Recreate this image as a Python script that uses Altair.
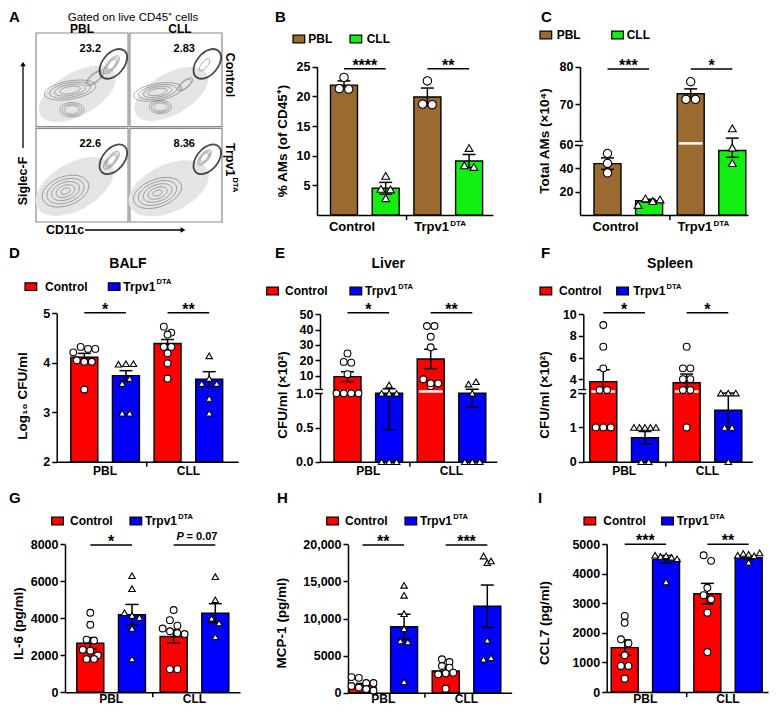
import altair as alt
import pandas as pd

FONT = "Liberation Sans"
W, H = 761, 698
RED, BLUE, BROWN, GREEN = "#ff0000", "#0000ff", "#9a6a30", "#11f011"

# ---------------- data ----------------
A_columns = ["PBL", "CLL"]
A_rows = ["Control", "Trpv1"]
A_gate_pct = ["23.2", "2.83", "22.6", "8.36"]
# flow populations: (box, CD11c, Siglec-F, semi-axis, axis ratio, angle, contour levels)
A_pops = [
    (0, 37, 39, 28, 0.35, 350, 4), (0, 39, 18, 13, 0.6, 0, 3), (0, 64, 52, 12, 0.4, 320, 2), (0, 82, 66, 12, 0.4, 310, 3),
    (1, 30, 37, 26, 0.35, 350, 4), (1, 33, 21, 12, 0.6, 0, 3), (1, 60, 45, 10, 0.4, 320, 2), (1, 81, 66, 8, 0.4, 310, 1),
    (2, 32, 33, 26, 0.6, 340, 5), (2, 82, 66, 12, 0.4, 310, 3),
    (3, 30, 31, 27, 0.55, 340, 5), (3, 81, 69, 10, 0.45, 310, 3),
]
A_clouds = [(0, 45, 35, 46, 0.5, 330), (1, 45, 35, 44, 0.5, 330), (2, 42, 38, 46, 0.55, 330), (3, 42, 36, 46, 0.55, 335)]

# B: % AMs (of CD45+); order Control-PBL, Control-CLL, Trpv1-PBL, Trpv1-CLL
B_mean = [21.9, 4.5, 19.9, 9.1]
B_sem = [0.7, 1.0, 1.5, 1.1]
B_points = [[23.2, 21.3, 21.2], [6.6, 4.4, 4.3, 2.83], [22.6, 18.7, 18.6], [11.3, 8.36, 8.1]]
B_sig = ["****", "**"]

# C: Total AMs (x10^4)
C_mean = [44.0, 12.2, 72.8, 55.2]
C_sem = [4.9, 1.3, 1.3, 5.8]
C_points = [[52.7, 44.2, 36.0], [8.6, 14.2, 11.9, 13.3], [76.0, 71.3, 71.3], [63.6, 57.8, 44.4]]
C_sig = ["***", "*"]

# D-I order: PBL-Control, PBL-Trpv1, CLL-Control, CLL-Trpv1
D_mean = [4.11, 3.74, 4.39, 3.67]
D_sem = [0.08, 0.10, 0.08, 0.15]
D_points = [[4.21, 4.32, 4.28, 4.28, 4.05, 4.02, 4.02, 3.46],
            [3.97, 3.98, 3.98, 3.58, 3.68, 2.98, 2.98],
            [4.73, 4.61, 4.57, 4.32, 4.32, 4.19, 3.99, 3.68],
            [4.14, 3.58, 3.68, 3.58, 3.28, 2.98]]
D_sig = ["*", "**"]

E_mean = [9.4, 1.0, 20.9, 1.0]
E_sem = [3.2, 0.53, 6.3, 0.2]
E_points = [[24.5, 19.0, 18.5, 11.0, 1, 1, 1, 1],
            [4, 1, 1, 1, 0, 0, 0],
            [42.3, 42.3, 35.3, 28.5, 3.3, 7.7, 5.1, 5.1],
            [4.6, 6.1, 1, 0, 0, 0]]
E_sig = ["*", "**"]

F_mean = [3.77, 0.70, 3.67, 1.50]
F_sem = [1.1, 0.18, 0.8, 0.5]
F_points = [[9, 7, 5, 3, 3, 1, 1, 1],
            [1, 1, 1, 1, 1, 0, 0],
            [7, 5, 5, 4, 4, 3, 3, 1],
            [2, 2, 2, 1, 1, 0]]
F_sig = ["*", "*"]

G_mean = [2650, 4200, 3020, 4270]
G_sem = [300, 550, 350, 520]
G_points = [[4300, 3650, 2850, 2800, 2300, 2250, 2000, 1800, 1800],
            [6300, 5600, 4300, 4150, 4050, 3450, 1800],
            [4450, 3900, 3600, 3450, 3300, 3200, 3150, 1250, 1250],
            [6250, 5000, 4000, 3750, 3000]]
G_sig = ["*", "P = 0.07"]

H_mean = [1000, 8880, 2920, 11660]
H_sem = [250, 1700, 450, 2850]
H_points = [[2100, 2000, 1300, 1300, 900, 700, 500, 300],
            [14470, 13120, 10650, 8630, 6970, 6830, 1480],
            [4500, 3600, 4140, 3370, 2480, 2610, 2700, 540],
            [18420, 17520, 17750, 7060, 4500, 4720]]
H_sig = ["**", "***"]

I_mean = [1500, 4480, 3320, 4540]
I_sem = [260, 130, 350, 60]
I_points = [[2570, 2340, 1780, 1640, 1240, 880, 880, 450],
            [4620, 4580, 4600, 4550, 4500, 3720],
            [4620, 4430, 3270, 3520, 3130, 2680, 1350],
            [4620, 4680, 4650, 4600, 4700, 4380]]
I_sig = ["***", "**"]


# ---------------- helpers ----------------
def cx(X):
    return X - 8


def cy(Y):
    return Y - 8 if Y < 475 else Y - 12


layers = []
texts = []
swatches = []


def T(x, y, text, style):
    texts.append(dict(x=cx(x), y=cy(y), text=text, style=style))


STYLES = {
    "letter": dict(fontSize=15, fontWeight="bold", align="left", baseline="alphabetic"),
    "ptitle": dict(fontSize=14, fontWeight="bold", align="center", baseline="alphabetic"),
    "leg": dict(fontSize=12, fontWeight="bold", align="left", baseline="middle"),
    "legsup": dict(fontSize=7.5, fontWeight="bold", align="left", baseline="middle"),
    "ytitle": dict(fontSize=13.5, fontWeight="bold", align="center", baseline="middle", angle=270),
    "gated": dict(fontSize=11.5, fontWeight="normal", align="center", baseline="alphabetic"),
    "flowcol": dict(fontSize=12, fontWeight="bold", align="center", baseline="alphabetic"),
    "flowrow": dict(fontSize=12.5, fontWeight="bold", align="center", baseline="middle", angle=90),
    "flowrowL": dict(fontSize=12.5, fontWeight="bold", align="left", baseline="middle", angle=90),
    "flowrowsup": dict(fontSize=7.5, fontWeight="bold", align="left", baseline="middle", angle=90),
    "flowax": dict(fontSize=12.5, fontWeight="bold", align="center", baseline="middle"),
    "flowaxV": dict(fontSize=12.5, fontWeight="bold", align="center", baseline="middle", angle=270),
    "pval_i": dict(fontSize=11, fontWeight="bold", fontStyle="italic", align="left", baseline="middle"),
    "pval": dict(fontSize=11, fontWeight="bold", align="left", baseline="middle"),
}


def legend(yc, items, fs=12):
    for sw, lab, col, text in items:
        swatches.append(dict(x=cx(sw), x2=cx(sw + 11.7), y=cy(yc - 3.8), y2=cy(yc + 3.8), fill=col))
        if text == "Trpv1":
            T(lab, yc, "Trpv1", "leg")
            T(lab + 2.723 * fs + 0.5, yc - 4.5, "DTA", "legsup")
        else:
            T(lab, yc, text, "leg")


def beeswarm(ds, diam, span):
    order = sorted(range(len(ds)), key=lambda i: -ds[i])
    clusters = []
    for i in order:
        if clusters and ds[clusters[-1][0]] - ds[i] < diam * 0.85:
            clusters[-1].append(i)
        else:
            clusters.append([i])
    off = [0.0] * len(ds)
    for c in clusters:
        c.sort()
        n = len(c)
        s = diam if n < 2 else min(diam, span / (n - 1))
        for k, i in enumerate(c):
            off[i] = (k - (n - 1) / 2) * s
    return off


def bar_panel(P):
    step, c0 = P["step"], P["c0"]
    ax, xe = P["axis_x"], P["x_end"]
    u0, u1 = (ax - c0) / step, (xe - c0) / step
    xs = alt.Scale(domain=[u0, u1], range=[cx(ax), cx(xe)], nice=False, zero=False)
    base = cy(P["base"])
    dmax = P["dmax"]
    ys = alt.Scale(domain=[0, dmax], range=[base, base - dmax], nice=False, zero=False)
    dm = P["dmap"]
    hw = P["bar_w"] / 2 / step

    tvals = [round(dm(v), 3) for v, _ in P["ticks"]]
    expr = "".join(f"datum.value == {tv} ? '{lab}' : " for tv, (_, lab) in zip(tvals, P["ticks"])) + "''"
    yaxis = alt.Axis(orient="left", offset=-cx(ax), values=tvals, labelExpr=expr, title=None, grid=False,
                     domainColor="black", domainWidth=1.5, tickColor="black", tickWidth=1.5, tickSize=5,
                     labelFont=FONT, labelFontSize=12.5, labelFontWeight="bold", labelColor="black",
                     labelPadding=2, labelOverlap=False)
    xaxis = alt.Axis(orient="bottom", offset=base - H, ticks=False, labels=False, title=None, grid=False,
                     domainColor="black", domainWidth=1.5)

    bars = pd.DataFrame({"lo": [i - hw for i in range(4)], "hi": [i + hw for i in range(4)],
                         "d0": [0.0] * 4, "d1": [dm(m) for m in P["mean"]], "fill": P["colors"]})
    layers.append(alt.Chart(bars).mark_rect(stroke="black", strokeWidth=1.4).encode(
        x=alt.X("lo:Q", scale=xs, axis=xaxis), x2="hi:Q",
        y=alt.Y("d0:Q", scale=ys, axis=yaxis), y2="d1:Q",
        fill=alt.Fill("fill:N", scale=None)))

    if P.get("brk") is not None:
        rows = [dict(lo=i - hw + 0.04, hi=i + hw - 0.04, d=P["brk"])
                for i, m in enumerate(P["mean"]) if dm(m) > P["brk"] + 1]
        if rows:
            layers.append(alt.Chart(pd.DataFrame(rows)).mark_rule(color="white", strokeWidth=2.5).encode(
                x=alt.X("lo:Q", scale=xs, axis=None), x2="hi:Q", y=alt.Y("d:Q", scale=ys, axis=None)))
        yb = base - P["brk"]
        one = pd.DataFrame({"k": [0]})
        layers.append(alt.Chart(one).mark_rule(color="white", strokeWidth=4).encode(
            x=alt.value(cx(ax) + 0.5), y=alt.value(yb - 2), y2=alt.value(yb + 2)))
        for dy in (-2, 2):
            layers.append(alt.Chart(one).mark_rule(color="black", strokeWidth=1.3).encode(
                x=alt.value(cx(ax) - 5), x2=alt.value(cx(ax) + 3), y=alt.value(yb + dy)))

    cap = 6.5 / step
    eb = pd.DataFrame({"u": [float(i) for i in range(4)],
                       "lo": [dm(max(P["vmin"], m - s)) for m, s in zip(P["mean"], P["sem"])],
                       "hi": [dm(m + s) for m, s in zip(P["mean"], P["sem"])],
                       "cl": [i - cap for i in range(4)], "cr": [i + cap for i in range(4)]})
    layers.append(alt.Chart(eb).mark_rule(color="black", strokeWidth=1.5).encode(
        x=alt.X("u:Q", scale=xs, axis=None), y=alt.Y("lo:Q", scale=ys, axis=None), y2="hi:Q"))
    for f in ("lo", "hi"):
        layers.append(alt.Chart(eb).mark_rule(color="black", strokeWidth=1.5).encode(
            x=alt.X("cl:Q", scale=xs, axis=None), x2="cr:Q", y=alt.Y(f + ":Q", scale=ys, axis=None)))

    rows = []
    for i, vals in enumerate(P["pts"]):
        ds = [dm(v) for v in vals]
        offs = beeswarm(ds, P["diam"], P["bar_w"] - 5)
        for d, o in zip(ds, offs):
            rows.append(dict(u=i + o / step, d=d, shape="circle" if i % 2 == 0 else "triangle-up",
                             sz=P["msize"][i % 2]))
    layers.append(alt.Chart(pd.DataFrame(rows)).mark_point(
        filled=True, fill="white", stroke="black", strokeWidth=1.1, opacity=1).encode(
        x=alt.X("u:Q", scale=xs, axis=None), y=alt.Y("d:Q", scale=ys, axis=None),
        shape=alt.Shape("shape:N", scale=None), size=alt.Size("sz:Q", scale=None)))

    layers.append(alt.Chart(pd.DataFrame({"u": [1.5]})).mark_rule(color="black", strokeWidth=1.5).encode(
        x=alt.X("u:Q", scale=xs, axis=None), y=alt.value(base), y2=alt.value(base + 5)))

    sy = cy(P["sig_y"])
    sig = pd.DataFrame({"a": [0.0, 2.0], "b": [1.0, 3.0], "m": [0.5, 2.5], "t": P["sig"]})
    layers.append(alt.Chart(sig).mark_rule(color="black", strokeWidth=1.5).encode(
        x=alt.X("a:Q", scale=xs, axis=None), x2="b:Q", y=alt.value(sy)))
    stars = sig[sig["t"].str.startswith("*")]
    layers.append(alt.Chart(stars).mark_text(font=FONT, fontSize=16, fontWeight="bold", color="black",
                                             align="center", baseline="alphabetic").encode(
        x=alt.X("m:Q", scale=xs, axis=None), y=alt.value(sy + 2.1), text="t:N"))

    ly = P["lab_y_canvas"] if "lab_y_canvas" in P else cy(P["lab_y"])
    if P["lab"] == "BC":
        fs = 13
        c = pd.DataFrame({"u": [0.5 - 12.8 / step], "t": [P["groups"][0]]})
        l = pd.DataFrame({"u": [2.5 - 34 / step], "t": ["Trpv1"]})
        s = pd.DataFrame({"u": [2.5 - 34 / step + (2.723 * fs + 0.5) / step], "t": ["DTA"]})
        specs = [(c, "center", fs, 0), (l, "left", fs, 0), (s, "left", 8, -5)]
    else:
        fs = 12
        c = pd.DataFrame({"u": [0.5, 2.5], "t": ["PBL", "CLL"]})
        specs = [(c, "center", fs, 0)]
    for df, al, size, dy in specs:
        layers.append(alt.Chart(df).mark_text(font=FONT, fontSize=size, fontWeight="bold", color="black",
                                              align=al, baseline="alphabetic").encode(
            x=alt.X("u:Q", scale=xs, axis=None), y=alt.value(ly + dy), text="t:N"))


# ---------------- panel A (flow cytometry) ----------------
fxs = alt.Scale(domain=[0, 202], range=[cx(36), cx(222)], nice=False, zero=False)
fys = alt.Scale(domain=[0, 202], range=[cy(222), cy(33)], nice=False, zero=False)
PXU = 0.93


def gx(box, u):
    return (box % 2) * 102 + u


def gy(box, v):
    return (1 - box // 2) * 102 + v


def ell(b):
    return f"M-1,0A1,{b} 0 1,1 1,0A1,{b} 0 1,1 -1,0Z"


boxes = pd.DataFrame([dict(x=gx(b, 0), x2=gx(b, 100), y=gy(b, 0), y2=gy(b, 100)) for b in range(4)])
layers.append(alt.Chart(boxes).mark_rect(fill="white", stroke="#8a8a8a", strokeWidth=1.2).encode(
    x=alt.X("x:Q", scale=fxs, axis=None), x2="x2:Q", y=alt.Y("y:Q", scale=fys, axis=None), y2="y2:Q"))

cl = pd.DataFrame([dict(x=gx(b, u), y=gy(b, v), path=ell(r), size=(2 * a * PXU) ** 2, ang=ang)
                   for b, u, v, a, r, ang in A_clouds])
layers.append(alt.Chart(cl).mark_point(filled=True, fill="#e4e4e4", opacity=1, strokeWidth=0).encode(
    x=alt.X("x:Q", scale=fxs, axis=None), y=alt.Y("y:Q", scale=fys, axis=None),
    shape=alt.Shape("path:N", scale=None), size=alt.Size("size:Q", scale=None),
    angle=alt.Angle("ang:Q", scale=None)))

crow = []
for b, u, v, a, r, ang, lv in A_pops:
    for k in range(lv):
        f = 1 - k * 0.2
        crow.append(dict(x=gx(b, u), y=gy(b, v), path=ell(r), size=(2 * a * f * PXU) ** 2, ang=ang))
layers.append(alt.Chart(pd.DataFrame(crow)).mark_point(filled=False, stroke="#707070", strokeWidth=0.8).encode(
    x=alt.X("x:Q", scale=fxs, axis=None), y=alt.Y("y:Q", scale=fys, axis=None),
    shape=alt.Shape("path:N", scale=None), size=alt.Size("size:Q", scale=None),
    angle=alt.Angle("ang:Q", scale=None)))

gates = pd.DataFrame([dict(x=gx(b, 84), y=gy(b, 67), path=ell(0.62), size=(2 * 18.5 * PXU) ** 2, ang=310,
                           tx=gx(b, 59), ty=gy(b, 83), t=A_gate_pct[b]) for b in range(4)])
layers.append(alt.Chart(gates).mark_point(filled=False, stroke="black", strokeWidth=1.8).encode(
    x=alt.X("x:Q", scale=fxs, axis=None), y=alt.Y("y:Q", scale=fys, axis=None),
    shape=alt.Shape("path:N", scale=None), size=alt.Size("size:Q", scale=None),
    angle=alt.Angle("ang:Q", scale=None)))
layers.append(alt.Chart(gates).mark_text(font=FONT, fontSize=11, fontWeight="bold", color="black").encode(
    x=alt.X("tx:Q", scale=fxs, axis=None), y=alt.Y("ty:Q", scale=fys, axis=None), text="t:N"))

one = pd.DataFrame({"k": [0]})
layers.append(alt.Chart(one).mark_rule(color="black", strokeWidth=1.3).encode(
    x=alt.value(cx(23)), y=alt.value(cy(148)), y2=alt.value(cy(66))))
layers.append(alt.Chart(one).mark_rule(color="black", strokeWidth=1.3).encode(
    x=alt.value(cx(85)), x2=alt.value(cx(181)), y=alt.value(cy(230))))
layers.append(alt.Chart(one).mark_point(shape="triangle-up", filled=True, color="black", size=30, opacity=1).encode(
    x=alt.value(cx(23)), y=alt.value(cy(64))))
layers.append(alt.Chart(one).mark_point(shape="triangle-right", filled=True, color="black", size=30, opacity=1).encode(
    x=alt.value(cx(183)), y=alt.value(cy(230))))

T(133, 20.5, "Gated on live CD45\u207a cells", "gated")
T(82, 32.5, A_columns[0], "flowcol")
T(180, 32.5, A_columns[1], "flowcol")
T(230, 75, A_rows[0], "flowrow")
T(230, 143, "Trpv1", "flowrowL")
T(234.5, 143 + 2.723 * 12.5 + 0.5, "DTA", "flowrowsup")
T(23, 181, "Siglec-F", "flowaxV")
T(65, 230, "CD11c", "flowax")

# ---------------- bar panels ----------------
circ_tri = lambda a, b: [a, b, a, b]

bar_panel(dict(axis_x=317, x_end=493, c0=344, step=41.7, base=215, dmax=25 * 5.932,
               dmap=lambda v: v * 5.932, vmin=0,
               ticks=[(5, "5"), (10, "10"), (15, "15"), (20, "20"), (25, "25")],
               mean=B_mean, sem=B_sem, pts=B_points, colors=circ_tri(BROWN, GREEN),
               sig_y=68.7, sig=B_sig, msize=(70, 62), diam=9.5, bar_w=27,
               lab="BC", lab_y=231, groups=["Control"]))


def dC(v):
    return 1.1675 * v if v <= 60 else 73.1 + 3.76 * (v - 60)


bar_panel(dict(axis_x=580, x_end=748, c0=607.5, step=41.6, base=215, dmax=dC(80), dmap=dC, vmin=0,
               ticks=[(20, "20"), (40, "40"), (60, "60"), (70, "70"), (80, "80")], brk=71.6,
               mean=C_mean, sem=C_sem, pts=C_points, colors=circ_tri(BROWN, GREEN),
               sig_y=69, sig=C_sig, msize=(70, 62), diam=9.5, bar_w=27,
               lab="BC", lab_y=231, groups=["Control"]))

bar_panel(dict(axis_x=56.7, x_end=238.3, c0=84.3, step=41.63, base=461.7, dmax=148.4,
               dmap=lambda v: (v - 2) * 49.47, vmin=2,
               ticks=[(2, "2"), (3, "3"), (4, "4"), (5, "5")],
               mean=D_mean, sem=D_sem, pts=D_points, colors=circ_tri(RED, BLUE),
               sig_y=312.7, sig=D_sig, msize=(46, 42), diam=7.5, bar_w=27, lab="DI", lab_y=474.5))


def dE(v):
    return 68.4 * v if v <= 1 else 72.1 + 1.54 * (v - 1)


bar_panel(dict(axis_x=320, x_end=496.7, c0=347.5, step=41.6, base=461.7, dmax=dE(50), dmap=dE, vmin=0,
               ticks=[(0, "0.0"), (0.5, "0.5"), (1, "1.0"), (10, "10"), (20, "20"), (30, "30"), (40, "40"), (50, "50")],
               brk=70.25, mean=E_mean, sem=E_sem, pts=E_points, colors=circ_tri(RED, BLUE),
               sig_y=312.7, sig=E_sig, msize=(46, 42), diam=7.5, bar_w=27, lab="DI", lab_y=474.5))


def dF(v):
    if v <= 2:
        return 34.3 * v
    if v < 3:
        return 68.6 + (v - 2) * 3.1
    return 71.7 + 10.83 * (v - 3)


bar_panel(dict(axis_x=583.3, x_end=752.3, c0=603.3, step=41.67, base=461.7, dmax=dF(10), dmap=dF, vmin=0,
               ticks=[(0, "0"), (1, "1"), (2, "2"), (4, "4"), (6, "6"), (8, "8"), (10, "10")],
               brk=70.15, mean=F_mean, sem=F_sem, pts=F_points, colors=circ_tri(RED, BLUE),
               sig_y=312.7, sig=F_sig, msize=(46, 42), diam=7.5, bar_w=27, lab="DI", lab_y=474.5))

BOTTOM_LABEL = 695.0  # canvas baseline of the bottom-row group labels

bar_panel(dict(axis_x=65, x_end=240, c0=90.3, step=41.67, base=696.3, dmax=148,
               dmap=lambda v: v * 148 / 8000, vmin=0,
               ticks=[(0, "0"), (2000, "2000"), (4000, "4000"), (6000, "6000"), (8000, "8000")],
               mean=G_mean, sem=G_sem, pts=G_points, colors=circ_tri(RED, BLUE),
               sig_y=549, sig=G_sig, msize=(46, 42), diam=7.5, bar_w=27, lab="DI", lab_y_canvas=BOTTOM_LABEL))

bar_panel(dict(axis_x=348, x_end=511.7, c0=362.5, step=41.6, base=696.7, dmax=148.4,
               dmap=lambda v: v * 148.4 / 20000, vmin=0,
               ticks=[(0, "0"), (5000, "5000"), (10000, "10,000"), (15000, "15,000"), (20000, "20,000")],
               mean=H_mean, sem=H_sem, pts=H_points, colors=circ_tri(RED, BLUE),
               sig_y=549, sig=H_sig, msize=(46, 42), diam=7.5, bar_w=27, lab="DI", lab_y_canvas=BOTTOM_LABEL))

bar_panel(dict(axis_x=606.7, x_end=768, c0=624.7, step=41.33, base=696, dmax=148,
               dmap=lambda v: v * 148 / 5000, vmin=0,
               ticks=[(0, "0"), (1000, "1000"), (2000, "2000"), (3000, "3000"), (4000, "4000"), (5000, "5000")],
               mean=I_mean, sem=I_sem, pts=I_points, colors=circ_tri(RED, BLUE),
               sig_y=548.3, sig=I_sig, msize=(46, 42), diam=7.5, bar_w=27, lab="DI", lab_y_canvas=BOTTOM_LABEL))

T(176.5, 541, "P", "pval_i")
T(186.5, 541, "= 0.07", "pval")

# ---------------- letters, titles, legends, axis titles ----------------
for L, x, y in [("A", 3, 22), ("B", 275, 22), ("C", 541, 22), ("D", 3, 258), ("E", 275, 258),
                ("F", 541, 258), ("G", 3, 507), ("H", 277, 507), ("I", 538, 507)]:
    T(max(x, 9), y, L, "letter")
T(128, 268, "BALF", "ptitle")
T(388.3, 268, "Liver", "ptitle")
T(670, 268, "Spleen", "ptitle")

legend(39, [(293, 308.3, BROWN, "PBL"), (350, 366.7, GREEN, "CLL")])
legend(35, [(540, 556.7, BROWN, "PBL"), (611.7, 626.7, GREEN, "CLL")])
legend(286.7, [(25, 45, RED, "Control"), (108.3, 123.3, BLUE, "Trpv1")])
legend(291, [(266.7, 285, RED, "Control"), (350, 365, BLUE, "Trpv1")])
legend(291, [(540, 559, RED, "Control"), (616.7, 633.3, BLUE, "Trpv1")])
legend(525, [(51.7, 70, RED, "Control"), (130, 145, BLUE, "Trpv1")])
legend(525, [(326.7, 345, RED, "Control"), (405, 420, BLUE, "Trpv1")])
legend(525, [(584, 603.3, RED, "Control"), (661.7, 676.7, BLUE, "Trpv1")])

for x, y, t in [(283, 141, "% AMs (of CD45\u207a)"), (545, 141, "Total AMs (\u00d710\u2074)"),
                (23.3, 396, "Log\u2081\u2080 CFU/ml"), (282.7, 395, "CFU/ml (\u00d710\u00b2)"),
                (545, 395, "CFU/ml (\u00d710\u00b2)"), (19, 627.5, "IL-6 (pg/ml)"),
                (281.7, 627, "MCP-1 (pg/ml)"), (545, 627, "CCL7 (pg/ml)")]:
    T(x, y, t, "ytitle")

layers.append(alt.Chart(pd.DataFrame(swatches)).mark_rect(stroke="black", strokeWidth=1.2).encode(
    x=alt.X("x:Q", scale=None, axis=None), x2="x2:Q",
    y=alt.Y("y:Q", scale=None, axis=None), y2="y2:Q",
    fill=alt.Fill("fill:N", scale=None)))

tdf = pd.DataFrame(texts)
for st, kw in STYLES.items():
    sub = tdf[tdf["style"] == st]
    if len(sub) == 0:
        continue
    layers.append(alt.Chart(sub[["x", "y", "text"]]).mark_text(font=FONT, color="black", **kw).encode(
        x=alt.X("x:Q", scale=None, axis=None), y=alt.Y("y:Q", scale=None, axis=None), text="text:N"))

chart = alt.layer(*layers).resolve_scale(x="independent", y="independent").properties(
    width=W, height=H, autosize=alt.AutoSizeParams(type="none"), padding=0
).configure(font=FONT).configure_view(stroke=None)

chart.save("out.html", embed_options={"renderer": "svg", "actions": False})
